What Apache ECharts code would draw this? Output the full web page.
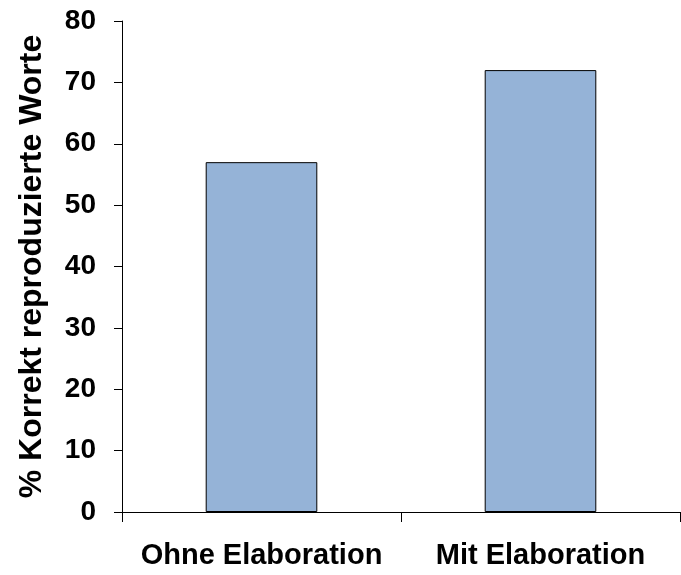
<!DOCTYPE html>
<html>
<head>
<meta charset="utf-8">
<script src="https://cdn.jsdelivr.net/npm/echarts@6/dist/echarts.min.js"></script>
<style>html,body{margin:0;padding:0;background:#fff;}#c{width:681px;height:575px;}</style>
</head>
<body>
<div id="c"></div>
<script>
const categories = ["Ohne Elaboration", "Mit Elaboration"];
const values = [57, 72];
const yTicks = { min: 0, max: 80, interval: 10 };
const yName = "% Korrekt reproduzierte Worte";

const chart = echarts.init(document.getElementById('c'), null, { renderer: 'canvas' });
const font = '"Liberation Sans", Arial, sans-serif';
chart.setOption({
  animation: false,
  backgroundColor: '#fff',
  grid: { left: 122, right: 1, top: 21, bottom: 63, containLabel: false },
  xAxis: {
    type: 'category',
    data: categories,
    boundaryGap: true,
    axisLine: { show: true, lineStyle: { color: '#000', width: 1 } },
    axisTick: { show: true, alignWithLabel: false, length: 10, lineStyle: { color: '#000' } },
    axisLabel: { color: '#000', fontFamily: font, fontWeight: 'bold', fontSize: 29, margin: 29, interval: 0 },
    splitLine: { show: false }
  },
  yAxis: {
    type: 'value',
    min: yTicks.min, max: yTicks.max, interval: yTicks.interval,
    name: yName,
    nameLocation: 'middle',
    nameGap: 74,
    nameRotate: 90,
    nameTextStyle: { color: '#000', fontFamily: font, fontWeight: 'bold', fontSize: 32 },
    axisLine: { show: true, lineStyle: { color: '#000', width: 1 } },
    axisTick: { show: true, length: 8, lineStyle: { color: '#000' } },
    axisLabel: { color: '#000', fontFamily: font, fontWeight: 'bold', fontSize: 28, margin: 26 },
    splitLine: { show: false }
  },
  series: [{
    type: 'bar',
    data: values,
    barCategoryGap: '60%',
    itemStyle: { color: '#95B3D7', borderColor: '#000', borderWidth: 1 }
  }]
});
</script>
</body>
</html>
